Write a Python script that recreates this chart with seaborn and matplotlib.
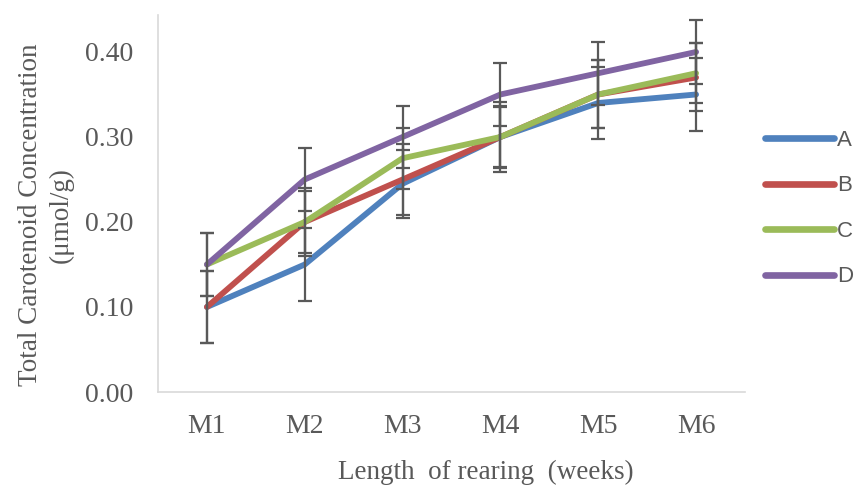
import numpy as np
import pandas as pd
import matplotlib
matplotlib.use("Agg")
import matplotlib.pyplot as plt
import seaborn as sns

months = ["M1", "M2", "M3", "M4", "M5", "M6"]
groups = ["A", "B", "C", "D"]
val_A = [0.10, 0.15, 0.245, 0.30, 0.34, 0.35]
val_B = [0.10, 0.20, 0.25, 0.30, 0.35, 0.37]
val_C = [0.15, 0.20, 0.275, 0.30, 0.35, 0.375]
val_D = [0.15, 0.25, 0.30, 0.35, 0.375, 0.40]
err_A = [0.042, 0.043, 0.040, 0.041, 0.042, 0.043]
err_B = [0.042, 0.040, 0.042, 0.035, 0.040, 0.040]
err_C = [0.037, 0.037, 0.036, 0.037, 0.040, 0.035]
err_D = [0.037, 0.037, 0.037, 0.037, 0.037, 0.038]
colors = ["#4F81BD", "#C0504D", "#9BBB59", "#8064A2"]

vals = [val_A, val_B, val_C, val_D]
errs = [err_A, err_B, err_C, err_D]
rows = []
for g, v, e in zip(groups, vals, errs):
    for m, vv, ee in zip(months, v, e):
        rows.append({"month": m, "group": g, "value": vv, "err": ee})
df = pd.DataFrame(rows)

sns.set_style("white")
plt.rcParams["font.family"] = ["Liberation Serif", "DejaVu Serif"]

fig = plt.figure(figsize=(8.59, 4.86), dpi=100)
ax = fig.add_axes([158 / 859, 1 - 392 / 486, (745 - 158) / 859, (392 - 15) / 486])

sns.lineplot(data=df, x="month", y="value", hue="group", palette=colors,
             linewidth=4.2, ax=ax, sort=False, legend=True)
for line in ax.get_lines():
    line.set_solid_capstyle("round")
    line.set_solid_joinstyle("round")

pos = {m: i for i, m in enumerate(months)}
ax.errorbar(df["month"].map(pos), df["value"], yerr=df["err"], fmt="none",
            ecolor="#595959", elinewidth=1.6, capsize=5, capthick=1.6, zorder=5)

ax.set_xlim(-0.5, 5.5)
ax.set_ylim(0, 0.4435)
ax.set_yticks([0, 0.1, 0.2, 0.3, 0.4])
ax.set_yticklabels(["0.00", "0.10", "0.20", "0.30", "0.40"])
ax.tick_params(axis="y", length=0, labelsize=20, colors="#595959", pad=18)
ax.tick_params(axis="x", length=0, labelsize=20, colors="#595959", pad=16)
for s in ["top", "right"]:
    ax.spines[s].set_visible(False)
for s in ["left", "bottom"]:
    ax.spines[s].set_color("#D9D9D9")
    ax.spines[s].set_linewidth(1.2)

ax.set_xlabel("Length  of rearing  (weeks)", fontsize=19.5, color="#595959")
ax.set_ylabel("Total Carotenoid Concentration\n(μmol/g)", fontsize=19.5, color="#595959",
              linespacing=1.3)
ax.xaxis.set_label_coords(0.559, -0.18)
ax.yaxis.set_label_coords(-0.143, 0.469)

leg = ax.legend(loc="upper left", bbox_to_anchor=(765 / 859, 1 - 130 / 486),
                bbox_transform=fig.transFigure, frameon=False, borderaxespad=0,
                borderpad=0, handlelength=3.1, handletextpad=0.15, labelspacing=1.1,
                prop={"family": "Liberation Sans", "size": 16})
for t in leg.get_texts():
    t.set_color("#595959")
for h in leg.get_lines():
    h.set_linewidth(4.8)
    h.set_solid_capstyle("round")

fig.savefig("out.png", dpi=100)
